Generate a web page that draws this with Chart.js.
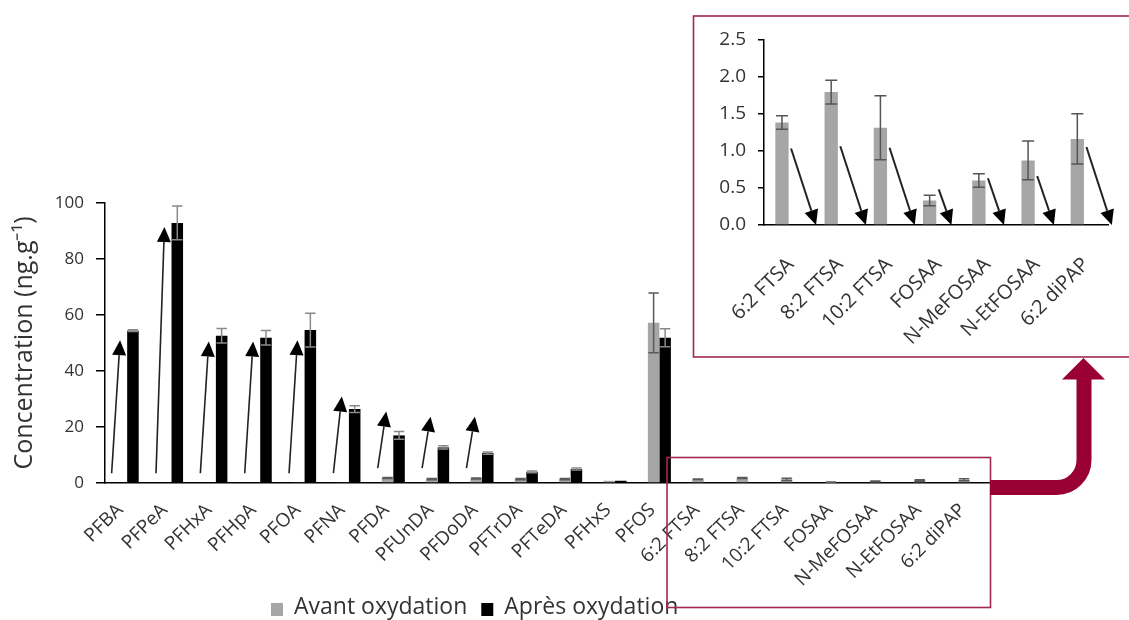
<!DOCTYPE html>
<html>
<head>
<meta charset="utf-8">
<script src="https://cdn.jsdelivr.net/npm/chart.js@4/dist/chart.umd.min.js"></script>
<style>
  html, body { margin: 0; padding: 0; background: #fff; }
  body { width: 1129px; height: 620px; overflow: hidden; position: relative; }
  #main { position: absolute; left: 0; top: 0; }
  #inset { position: absolute; left: 693px; top: 16px; }
  #deco { position: absolute; left: 0; top: 0; pointer-events: none; }
</style>
</head>
<body>
<canvas id="main" width="1129" height="620"></canvas>
<canvas id="inset" width="436" height="340"></canvas>
<svg id="deco" width="1129" height="620">
  <rect x="667" y="457.5" width="323.5" height="150" fill="none" stroke="#a3284f" stroke-width="1.6"/>
  <rect x="693.5" y="16" width="500" height="341" fill="none" stroke="#a3284f" stroke-width="1.6"/>
  <path d="M990 487.5 H1056.5 A27.5 27.5 0 0 0 1084 460 V378" fill="none" stroke="#990033" stroke-width="15"/>
  <polygon points="1062,379.5 1105,379.5 1083.5,358" fill="#990033"/>
</svg>
<script>
const labels = ['PFBA', 'PFPeA', 'PFHxA', 'PFHpA', 'PFOA', 'PFNA', 'PFDA', 'PFUnDA', 'PFDoDA', 'PFTrDA', 'PFTeDA', 'PFHxS', 'PFOS',
                '6:2 FTSA', '8:2 FTSA', '10:2 FTSA', 'FOSAA', 'N-MeFOSAA', 'N-EtFOSAA', '6:2 diPAP'];
const avant    = [0, 0, 0, 0, 0.3, 0.3, 1.8, 1.4, 1.6, 1.4, 1.4, 0.8, 57.2, 1.38, 1.79, 1.31, 0.33, 0.6, 0.87, 1.16];
const avantErr = [0, 0, 0, 0, 0, 0, 0.2, 0.2, 0.2, 0.2, 0.2, 0, 10.7, 0.09, 0.16, 0.43, 0.07, 0.09, 0.26, 0.34];
const apres    = [54.4, 92.9, 52.6, 51.9, 54.6, 26.4, 17.0, 12.7, 10.7, 4.0, 5.0, 0.8, 51.9, 0, 0, 0, 0, 0, 0, 0];
const apresErr = [0.3, 6.0, 2.6, 2.6, 6.0, 1.2, 1.4, 0.6, 0.4, 0.3, 0.4, 0, 3.2, 0, 0, 0, 0, 0, 0, 0];
// arrows (increase after oxidation), y values where the arrow starts / ends
const upFrom = [3.5, 3.5, 3.5, 3.5, 3.5, 3.5, 5.3, 5.3, 5.3];
const upTo   = [51, 91.4, 50.5, 50.5, 51, 30.9, 25.5, 23.7, 23.7];
// arrows (decrease) in the zoom panel, start value, they all end on 0
const downFrom = [1.03, 1.06, 1.04, 0.48, 0.63, 0.66, 1.05];
const mainTicks = [0, 20, 40, 60, 80, 100];
const insetTicks = [0, 0.5, 1.0, 1.5, 2.0, 2.5];

const nSmall = 13; // first index of the zoomed compounds
const FONT = "'Open Sans', sans-serif";
const TXT = '#333';
const GREY = '#a6a6a6';

function drawHead(ctx, x0, y0, x1, y1, len, half) {
    const a = Math.atan2(y1 - y0, x1 - x0);
    const bx = x1 - len * Math.cos(a), by = y1 - len * Math.sin(a);
    ctx.beginPath();
    ctx.moveTo(x1, y1);
    ctx.lineTo(bx + half * Math.sin(a), by - half * Math.cos(a));
    ctx.lineTo(bx - half * Math.sin(a), by + half * Math.cos(a));
    ctx.closePath();
    ctx.fill();
    return [bx, by];
}
function drawArrow(ctx, x0, y0, x1, y1, lw) {
    ctx.save();
    ctx.strokeStyle = '#222';
    ctx.fillStyle = '#000';
    ctx.lineWidth = lw;
    const [bx, by] = drawHead(ctx, x0, y0, x1, y1, 15, 7);
    ctx.beginPath();
    ctx.moveTo(x0, y0);
    ctx.lineTo(bx, by);
    ctx.stroke();
    ctx.restore();
}

const errorBars = {
    id: 'errorBars',
    afterDatasetsDraw(chart) {
        const ctx = chart.ctx, y = chart.scales.y;
        chart.data.datasets.forEach((ds, i) => {
            const meta = chart.getDatasetMeta(i);
            meta.data.forEach((bar, j) => {
                const e = ds.errors[j];
                if (!e) return;
                const v = ds.data[j];
                const yt = y.getPixelForValue(v + e), yb = y.getPixelForValue(Math.max(v - e, 0));
                const w = bar.width * 0.45;
                ctx.save();
                ctx.strokeStyle = ds.errColor;
                ctx.lineWidth = 1.5;
                ctx.beginPath();
                ctx.moveTo(bar.x, yt); ctx.lineTo(bar.x, yb);
                ctx.moveTo(bar.x - w, yt); ctx.lineTo(bar.x + w, yt);
                ctx.moveTo(bar.x - w, yb); ctx.lineTo(bar.x + w, yb);
                ctx.stroke();
                ctx.restore();
            });
        });
    }
};

const upArrows = {
    id: 'upArrows',
    afterDatasetsDraw(chart) {
        const x = chart.scales.x, y = chart.scales.y;
        const cw = x.width / chart.data.labels.length;
        upFrom.forEach((v, i) => {
            const c = x.getPixelForValue(i);
            drawArrow(chart.ctx, c - 0.35 * cw, y.getPixelForValue(v), c - 0.16 * cw, y.getPixelForValue(upTo[i]), 1.6);
        });
    }
};

const downArrows = {
    id: 'downArrows',
    afterDatasetsDraw(chart) {
        const x = chart.scales.x, y = chart.scales.y;
        const cw = x.width / chart.data.labels.length;
        downFrom.forEach((v, i) => {
            const x0 = x.getPixelForValue(i) + 0.05 * cw;
            const y0 = y.getPixelForValue(v), y1 = y.getPixelForValue(0);
            drawArrow(chart.ctx, x0, y0, x0 + 0.3 * (y1 - y0) + 2, y1, 2);
        });
    }
};

const bottomLegend = {
    id: 'bottomLegend',
    afterDraw(chart) {
        const ctx = chart.ctx;
        let px = 271;
        ctx.save();
        ctx.font = '23px ' + FONT;
        ctx.textBaseline = 'middle';
        chart.data.datasets.forEach(ds => {
            ctx.fillStyle = ds.backgroundColor;
            ctx.fillRect(px, 603, 12, 13);
            ctx.fillStyle = TXT;
            ctx.fillText(ds.label, px + 23, 607);
            px += 23 + ctx.measureText(ds.label).width + 14;
        });
        ctx.restore();
    }
};

new Chart(document.getElementById('main'), {
    type: 'bar',
    data: {
        labels: labels,
        datasets: [{
            label: 'Avant oxydation',
            data: avant,
            errors: avantErr,
            errColor: '#5a5a5a',
            backgroundColor: GREY
        }, {
            label: 'Après oxydation',
            data: apres,
            errors: apresErr,
            errColor: '#8a8a8a',
            backgroundColor: '#000'
        }]
    },
    options: {
        responsive: false,
        animation: false,
        layout: { padding: { top: 203, right: 137, left: 0, bottom: 0 } },
        datasets: { bar: { categoryPercentage: 0.52, barPercentage: 1 } },
        plugins: { legend: { display: false }, tooltip: { enabled: false } },
        scales: {
            x: {
                grid: { display: false, drawTicks: false },
                border: { color: '#000', width: 1.5 },
                ticks: { autoSkip: false, minRotation: 45, maxRotation: 45, padding: 16, labelOffset: -7, color: TXT, font: { family: FONT, size: 19 } },
                afterFit(s) { s.height = 137; }
            },
            y: {
                min: 0,
                max: 100,
                afterBuildTicks(s) { s.ticks = mainTicks.map(v => ({ value: v })); },
                grid: { drawOnChartArea: false, tickLength: 9, color: '#000', lineWidth: 1.5 },
                border: { color: '#000', width: 1.5 },
                ticks: { padding: 12, color: TXT, font: { family: FONT, size: 17 } },
                title: { display: true, text: 'Concentration (ng.g⁻¹)', color: TXT, padding: { top: 10, bottom: 0 }, font: { family: FONT, size: 25 } },
                afterFit(s) { s.width = 105; }
            }
        }
    },
    plugins: [errorBars, upArrows, bottomLegend]
});

new Chart(document.getElementById('inset'), {
    type: 'bar',
    data: {
        labels: labels.slice(nSmall),
        datasets: [{
            label: 'Avant oxydation',
            data: avant.slice(nSmall),
            errors: avantErr.slice(nSmall),
            errColor: '#555',
            backgroundColor: GREY
        }, {
            label: 'Après oxydation',
            data: apres.slice(nSmall),
            errors: apresErr.slice(nSmall),
            errColor: '#8a8a8a',
            backgroundColor: '#000'
        }]
    },
    options: {
        responsive: false,
        animation: false,
        layout: { padding: { top: 16, right: 1, left: 0, bottom: 0 } },
        datasets: { bar: { categoryPercentage: 0.54, barPercentage: 1 } },
        plugins: { legend: { display: false }, tooltip: { enabled: false } },
        scales: {
            x: {
                grid: { display: false, drawTicks: false },
                border: { color: '#000', width: 1.5 },
                ticks: { autoSkip: false, minRotation: 45, maxRotation: 45, padding: 28, labelOffset: 2, color: TXT, font: { family: FONT, size: 20 } },
                afterFit(s) { s.height = 131; }
            },
            y: {
                min: 0,
                max: 2.5,
                afterBuildTicks(s) { s.ticks = insetTicks.map(v => ({ value: v })); },
                grid: { drawOnChartArea: false, tickLength: 6, color: '#000', lineWidth: 1.5 },
                border: { color: '#000', width: 1.5 },
                ticks: { padding: 12, color: TXT, font: { family: FONT, size: 19 }, callback: v => v.toFixed(1) },
                afterFit(s) { s.width = 71; }
            }
        }
    },
    plugins: [errorBars, downArrows]
});
</script>
</body>
</html>
